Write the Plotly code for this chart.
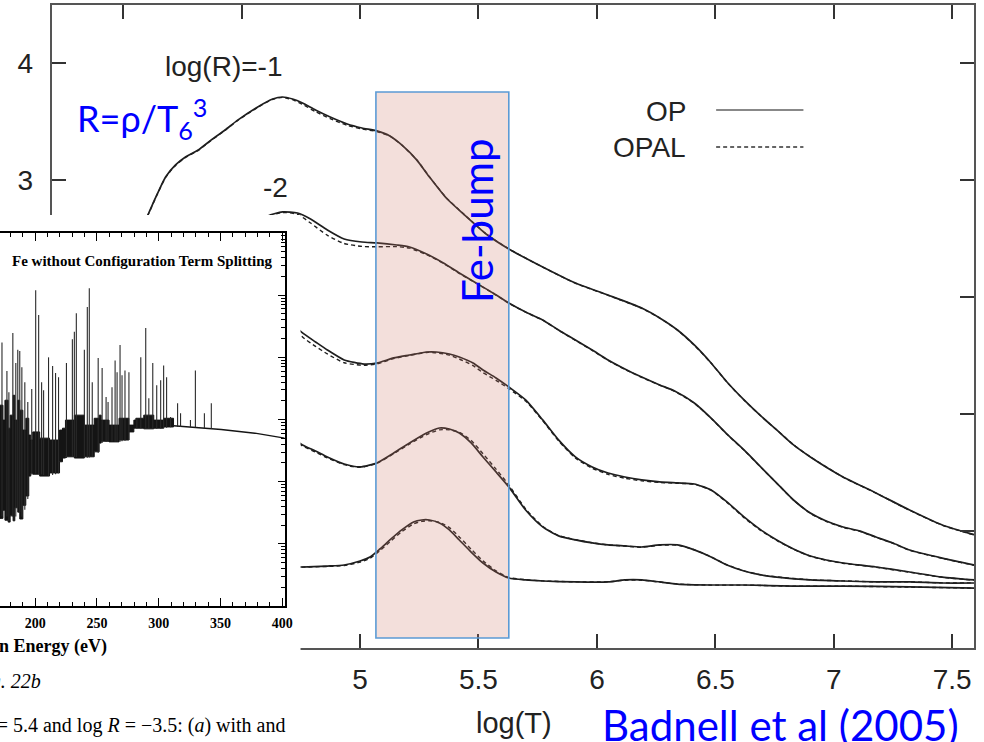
import math
import numpy as np
import plotly.graph_objects as go

W, H = 984, 742


def px(x):
    return x / W


def py(y):
    return 1 - y / H


# ---------------- main chart: Rosseland mean opacity vs log T ----------------
logT_r1 = [4.066, 4.108, 4.142, 4.179, 4.221, 4.263, 4.317, 4.372, 4.430, 4.485, 4.568, 4.631, 4.673,
           4.715, 4.757, 4.812, 4.874, 4.946, 5.008, 5.071, 5.126, 5.176, 5.239, 5.293, 5.364, 5.436,
           5.532, 5.628, 5.771, 5.909, 6.047, 6.189, 6.265, 6.340, 6.411, 6.482, 6.549, 6.621, 6.692,
           6.759, 6.830, 6.901, 7.039, 7.178, 7.320, 7.458, 7.596]
op_r1 = [2.533, 2.721, 2.875, 3.029, 3.132, 3.200, 3.260, 3.346, 3.431, 3.517, 3.628, 3.696, 3.713,
         3.696, 3.662, 3.602, 3.542, 3.482, 3.448, 3.423, 3.380, 3.303, 3.175, 3.029, 2.849, 2.713,
         2.541, 2.413, 2.259, 2.122, 2.019, 1.908, 1.823, 1.720, 1.592, 1.438, 1.275, 1.122, 0.985,
         0.865, 0.737, 0.634, 0.463, 0.326, 0.180, 0.052, -0.033]
opal_r1 = [2.530, 2.718, 2.872, 3.025, 3.128, 3.196, 3.257, 3.343, 3.428, 3.514, 3.625, 3.693, 3.710,
           3.690, 3.650, 3.588, 3.528, 3.470, 3.440, 3.418, 3.378, 3.302, 3.176, 3.030, 2.852, 2.715,
           2.543, 2.414, 2.258, 2.120, 2.017, 1.906, 1.822, 1.719, 1.590, 1.437, 1.274, 1.121, 0.985,
           0.866, 0.738, 0.635, 0.462, 0.325, 0.178, 0.050, -0.036]

logT_r2 = [4.548, 4.611, 4.673, 4.736, 4.791, 4.862, 4.933, 5.008, 5.071, 5.155, 5.209, 5.281, 5.352,
           5.419, 5.490, 5.561, 5.628, 5.699, 5.771, 5.838, 5.909, 5.980, 6.047, 6.118, 6.189, 6.265,
           6.328, 6.411, 6.482, 6.549, 6.621, 6.692, 6.759, 6.830, 6.901, 6.968, 7.039, 7.111, 7.178,
           7.249, 7.320, 7.458, 7.596]
op_r2 = [2.593, 2.695, 2.730, 2.721, 2.670, 2.576, 2.499, 2.473, 2.465, 2.447, 2.430, 2.370, 2.293,
         2.208, 2.122, 2.037, 1.951, 1.874, 1.806, 1.720, 1.635, 1.549, 1.464, 1.387, 1.318, 1.250,
         1.198, 1.096, 0.967, 0.830, 0.694, 0.548, 0.411, 0.266, 0.154, 0.086, 0.035, 0.000, -0.050,
         -0.102, -0.162, -0.231, -0.291]
opal_r2 = [2.585, 2.690, 2.725, 2.710, 2.635, 2.530, 2.460, 2.435, 2.432, 2.433, 2.420, 2.365, 2.290,
           2.205, 2.120, 2.035, 1.950, 1.872, 1.804, 1.718, 1.632, 1.546, 1.460, 1.383, 1.315, 1.248,
           1.196, 1.094, 0.965, 0.828, 0.692, 0.546, 0.410, 0.265, 0.152, 0.083, 0.032, -0.003, -0.053,
           -0.104, -0.164, -0.233, -0.294]

logT_r3 = [4.694, 4.757, 4.812, 4.862, 4.933, 5.017, 5.071, 5.142, 5.209, 5.281, 5.322, 5.377, 5.419,
           5.477, 5.519, 5.574, 5.628, 5.699, 5.771, 5.838, 5.909, 5.980, 6.047, 6.118, 6.189, 6.265,
           6.340, 6.411, 6.482, 6.549, 6.621, 6.692, 6.759, 6.830, 6.901, 6.968, 7.039, 7.178, 7.320,
           7.458, 7.596]
op_r3 = [1.806, 1.695, 1.618, 1.549, 1.464, 1.429, 1.438, 1.481, 1.506, 1.532, 1.532, 1.515, 1.489,
         1.438, 1.378, 1.310, 1.233, 1.122, 0.951, 0.780, 0.635, 0.549, 0.497, 0.463, 0.438, 0.421,
         0.412, 0.403, 0.352, 0.250, 0.121, 0.010, -0.076, -0.153, -0.213, -0.247, -0.273, -0.307,
         -0.350, -0.393, -0.418]
opal_r3 = [1.800, 1.660, 1.580, 1.515, 1.440, 1.418, 1.430, 1.475, 1.503, 1.528, 1.525, 1.505, 1.472,
           1.415, 1.355, 1.290, 1.218, 1.112, 0.945, 0.772, 0.625, 0.538, 0.485, 0.452, 0.430, 0.416,
           0.409, 0.401, 0.350, 0.245, 0.115, 0.005, -0.080, -0.156, -0.215, -0.249, -0.275, -0.309,
           -0.352, -0.395, -0.420]

logT_r4 = [4.694, 4.757, 4.812, 4.862, 4.933, 5.000, 5.071, 5.142, 5.209, 5.281, 5.335, 5.377, 5.419,
           5.469, 5.519, 5.574, 5.628, 5.699, 5.771, 5.838, 5.909, 5.980, 6.047, 6.118, 6.189, 6.265,
           6.340, 6.411, 6.482, 6.549, 6.621, 6.692, 6.759, 6.901, 7.039, 7.178, 7.320, 7.458, 7.596]
op_r4 = [0.822, 0.737, 0.685, 0.634, 0.574, 0.549, 0.583, 0.668, 0.754, 0.839, 0.882, 0.873, 0.839,
         0.754, 0.634, 0.506, 0.378, 0.181, 0.036, -0.041, -0.075, -0.101, -0.118, -0.127, -0.136,
         -0.118, -0.118, -0.161, -0.221, -0.290, -0.341, -0.375, -0.393, -0.418, -0.427, -0.435,
         -0.435, -0.444, -0.444]
opal_r4 = [0.818, 0.728, 0.676, 0.626, 0.568, 0.546, 0.580, 0.662, 0.745, 0.826, 0.866, 0.866, 0.846,
           0.775, 0.662, 0.530, 0.395, 0.190, 0.040, -0.038, -0.073, -0.100, -0.118, -0.128, -0.138,
           -0.121, -0.120, -0.160, -0.220, -0.288, -0.340, -0.374, -0.392, -0.417, -0.426, -0.434,
           -0.434, -0.443, -0.443]

logT_r5 = [4.694, 4.757, 4.862, 4.933, 5.000, 5.042, 5.084, 5.126, 5.176, 5.226, 5.260, 5.293, 5.335,
           5.377, 5.419, 5.469, 5.519, 5.574, 5.628, 5.699, 5.771, 5.909, 6.047, 6.118, 6.189, 6.265,
           6.340, 6.482, 6.621, 6.830, 7.039, 7.320, 7.596]
op_r5 = [-0.307, -0.307, -0.299, -0.290, -0.256, -0.222, -0.153, -0.076, 0.010, 0.078, 0.095, 0.095,
         0.070, 0.010, -0.076, -0.179, -0.273, -0.350, -0.401, -0.418, -0.427, -0.435, -0.435, -0.418,
         -0.418, -0.435, -0.453, -0.461, -0.461, -0.470, -0.470, -0.478, -0.487]
opal_r5 = [-0.307, -0.308, -0.302, -0.295, -0.265, -0.232, -0.168, -0.092, -0.005, 0.062, 0.083, 0.088,
           0.075, 0.030, -0.050, -0.155, -0.255, -0.340, -0.396, -0.416, -0.426, -0.434, -0.434, -0.420,
           -0.420, -0.436, -0.453, -0.462, -0.462, -0.471, -0.471, -0.479, -0.488]

curves = [(logT_r1, op_r1, opal_r1), (logT_r2, op_r2, opal_r2), (logT_r3, op_r3, opal_r3),
          (logT_r4, op_r4, opal_r4), (logT_r5, op_r5, opal_r5)]

# tick labels (those hidden under the pasted inset are left blank)
main_xticks = [4, 4.5, 5, 5.5, 6, 6.5, 7, 7.5]
main_xtext = ["", "", "5", "5.5", "6", "6.5", "7", "7.5"]
main_yticks = [-1, 0, 1, 2, 3, 4]
main_ytext = ["", "", "", "", "3", "4"]
fe_bump_T = [5.067, 5.628]
fe_bump_kappa = [-0.914, 3.756]

# ---------------- inset: Fe spectrum (photon energy in eV, log opacity in decades) ----------------
band_E = [171.5, 173.9, 175.5, 178.1, 179.7, 182.1, 183.5, 185.9, 187.5, 190.0, 192.4, 194.8, 196.4,
          198.0, 203.6, 211.6, 219.7, 222.1, 224.5, 231.7, 239.8, 247.8, 251.8, 253.4, 259.8, 267.9,
          275.9, 279.9, 281.5, 287.9, 296.0, 304.0, 312.0]
band_top = [3.23, 2.99, 3.31, 2.86, 3.07, 3.39, 2.99, 3.31, 3.15, 2.83, 3.02, 2.75, 2.67,
            2.80, 2.70, 2.67, 2.83, 2.86, 2.99, 3.07, 2.91, 3.02, 3.07, 2.99, 2.91, 3.02,
            2.91, 2.99, 3.02, 3.07, 2.99, 3.02, 2.91]
band_bot = [1.51, 1.41, 1.54, 1.38, 1.35, 1.45, 1.37, 1.58, 1.51, 1.40, 1.62, 1.77, 2.09,
            2.14, 2.12, 2.09, 2.14, 2.32, 2.38, 2.40, 2.38, 2.40, 2.48, 2.62, 2.65, 2.64,
            2.67, 2.80, 2.86, 2.86, 2.85, 2.86, 2.88]
cont_E = [312.0, 324.1, 350.6, 377.9, 402.0]
cont_v = [2.90, 2.88, 2.84, 2.78, 2.70]
line_E = [173.1, 177.1, 178.7, 181.9, 184.3, 185.9, 187.5, 189.2, 191.6, 194.0, 197.2, 200.4, 202.8,
          205.2, 206.8, 210.8, 214.1, 216.5, 218.9, 225.3, 230.1, 231.7, 233.3, 239.8, 242.2, 243.8,
          246.2, 251.0, 254.2, 257.4, 259.0, 262.2, 264.7, 266.3, 268.7, 270.3, 272.7, 275.9, 282.3,
          285.5, 289.5, 292.0, 295.2, 298.4, 301.6, 304.0, 306.4, 309.6, 315.3, 317.7, 325.7, 329.7,
          337.0, 342.6]
line_top = [4.24, 3.78, 3.44, 4.39, 3.91, 4.12, 4.10, 3.84, 3.60, 3.28, 3.49, 5.08, 4.68,
            3.60, 3.47, 4.00, 3.86, 3.75, 3.68, 3.91, 4.29, 4.41, 4.71, 4.12, 4.81, 5.11,
            3.60, 3.99, 3.83, 3.36, 3.28, 3.52, 3.95, 3.76, 4.20, 3.71, 3.79, 3.76, 3.02,
            4.00, 4.47, 3.34, 3.91, 3.55, 3.63, 3.87, 3.68, 3.04, 3.26, 3.10, 2.99, 3.79,
            3.10, 3.26]
inset_xticks = [200, 250, 300, 350, 400]
inset_xtext = ["200", "250", "300", "350", "400"]

# ---------------- figure ----------------
fig = go.Figure()

for lt, op, opal in curves:
    fig.add_trace(go.Scatter(x=lt, y=opal, mode="lines", xaxis="x", yaxis="y",
                             line=dict(color="#1e1e1e", width=1.4, dash="4px,3px", shape="spline", smoothing=0.6),
                             hoverinfo="skip", showlegend=False))
    fig.add_trace(go.Scatter(x=lt, y=op, mode="lines", xaxis="x", yaxis="y",
                             line=dict(color="#1e1e1e", width=1.7, shape="spline", smoothing=0.6),
                             hoverinfo="skip", showlegend=False))

# white cover under the pasted inset picture
fig.add_trace(go.Scatter(x=[None], y=[None], xaxis="x2", yaxis="y2", mode="lines",
                         hoverinfo="skip", showlegend=False))

# dense line blanket as a stepped filled outline
poly_x = band_E + band_E[::-1]
poly_y = band_top + band_bot[::-1]
fig.add_trace(go.Scatter(x=poly_x, y=poly_y, mode="lines", fill="toself", fillcolor="#141414",
                         line=dict(color="#141414", width=1.0, shape="hv"), xaxis="x3", yaxis="y3",
                         hoverinfo="skip", showlegend=False))
# smooth continuum beyond the last edge
fig.add_trace(go.Scatter(x=cont_E, y=cont_v, mode="lines", line=dict(color="#141414", width=1.4),
                         xaxis="x3", yaxis="y3", hoverinfo="skip", showlegend=False))

all_E = band_E + cont_E[1:]
all_bot = band_bot + cont_v[1:]
sx, sy = [], []
for e, t in zip(line_E, line_top):
    sx += [e, e, None]
    sy += [float(np.interp(e, all_E, all_bot)), t, None]
fig.add_trace(go.Scatter(x=sx, y=sy, mode="lines", line=dict(color="#2a2a2a", width=1.1),
                         xaxis="x3", yaxis="y3", hoverinfo="skip", showlegend=False))

minor_vals = [d + math.log10(k) for d in range(6) for k in range(2, 10)]

axis_font = dict(family="Liberation Sans, Arial, sans-serif", size=28, color="#222222")
fig.update_layout(
    width=W, height=H, margin=dict(l=0, r=0, t=0, b=0),
    paper_bgcolor="white", plot_bgcolor="white", showlegend=False,
    xaxis=dict(domain=[px(52), px(982)], range=[3.6977, 7.592], anchor="y",
               tickvals=main_xticks, ticktext=main_xtext, ticks="inside", ticklen=14, tickwidth=1.5,
               tickcolor="#333333", showline=True, linewidth=2, linecolor="#555555", mirror="ticks",
               showgrid=False, zeroline=False, tickfont=axis_font, ticklabelstandoff=5),
    yaxis=dict(domain=[py(648), py(5)], range=[-1, 4.5], anchor="x",
               tickvals=main_yticks, ticktext=main_ytext, ticks="inside", ticklen=14, tickwidth=1.5,
               tickcolor="#333333", showline=True, linewidth=2, linecolor="#555555", mirror="ticks",
               showgrid=False, zeroline=False, tickfont=axis_font, ticklabelstandoff=11),
    xaxis2=dict(domain=[0, px(303)], range=[0, 1], anchor="y2", visible=False),
    yaxis2=dict(domain=[0, py(215)], range=[0, 1], anchor="x2", visible=False),
    xaxis3=dict(domain=[0, px(287)], range=[171.5, 402], anchor="y3",
                tickvals=inset_xticks, ticktext=inset_xtext, ticks="inside", ticklen=8, tickwidth=1.3,
                tickcolor="black", showline=True, linewidth=2, linecolor="black", mirror="ticks",
                minor=dict(ticks="inside", ticklen=4, dtick=10, tick0=0, tickcolor="black", tickwidth=1),
                showgrid=False, zeroline=False, ticklabelstandoff=3,
                tickfont=dict(family="Liberation Serif, serif", size=14, color="black", weight="bold")),
    yaxis3=dict(domain=[py(606), py(233)], range=[0, 6], anchor="x3", side="right",
                showline=True, linewidth=2, linecolor="black", ticks="inside", ticklen=7, tickwidth=1.3,
                tickcolor="black", dtick=1, tick0=0, showticklabels=False,
                minor=dict(ticks="inside", ticklen=4, tickvals=minor_vals, tickcolor="black", tickwidth=1),
                showgrid=False, zeroline=False),
)

# Fe-bump highlight box
fig.add_shape(type="rect", xref="x", yref="y", x0=fe_bump_T[0], x1=fe_bump_T[1],
              y0=fe_bump_kappa[0], y1=fe_bump_kappa[1], layer="above",
              fillcolor="rgba(206,123,103,0.24)", line=dict(color="#5b9bd5", width=1.6))

# legend samples
fig.add_shape(type="line", xref="paper", yref="paper", x0=px(722), x1=px(810), y0=py(110), y1=py(110),
              line=dict(color="#888888", width=2))
fig.add_shape(type="line", xref="paper", yref="paper", x0=px(722), x1=px(810), y0=py(147), y1=py(147),
              line=dict(color="#333333", width=1.5, dash="4px,3px"))

sans = "Liberation Sans, Arial, sans-serif"
serif = "Liberation Serif, Times New Roman, serif"
blue_font = "Lato, Noto Sans, sans-serif"


def ann(text, x, y, size, family, color="#222222", xanchor="center", yanchor="middle", angle=0):
    fig.add_annotation(text=text, x=px(x), y=py(y), xref="paper", yref="paper", showarrow=False,
                       xanchor=xanchor, yanchor=yanchor, textangle=angle,
                       font=dict(family=family, size=size, color=color))


ann("log(R)=-1", 225, 67, 28, sans)
ann("-2", 278, 187, 28, sans)
ann("OP", 694, 111, 28, sans, xanchor="right")
ann("OPAL", 694, 147, 28, sans, xanchor="right")
ann("log(T)", 518, 723, 29, sans)
ann("Badnell et al (2005)", 605, 725, 42, blue_font, color="#0000ff", xanchor="left")
ann("R=ρ/T<sub>6</sub><sup>3</sup>", 76, 118, 36, blue_font, color="#0000ff", xanchor="left")
ann("Fe-bump", 481, 221, 42, blue_font, color="#0000ff", angle=-90)

ann("<b>Fe without Configuration Term Splitting</b>", 10, 261, 15, serif, color="black", xanchor="left")
ann("<b>Photon Energy (eV)</b>", 110, 646, 18, serif, color="black", xanchor="right")
ann("<i>Fig. 22b</i>", 43, 681, 20, serif, color="black", xanchor="right")
ann("log <i>T</i> = 5.4 and log <i>R</i> = −3.5: (<i>a</i>) with and", 290, 725, 20, serif,
    color="black", xanchor="right")

fig.write_html("out.html")
